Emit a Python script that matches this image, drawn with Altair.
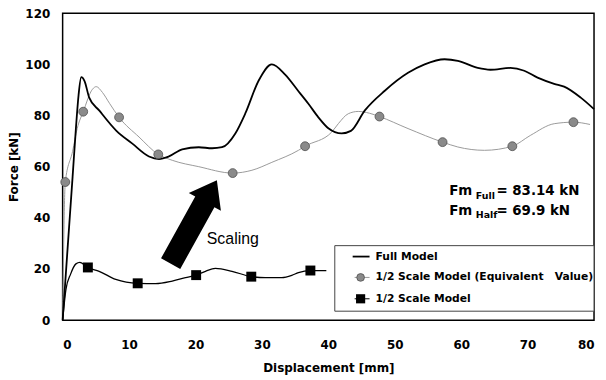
import altair as alt
import pandas as pd

# ---------------- data ----------------
full_x = [0, 0.8, 1.5, 2.0, 2.4, 2.8, 3.3, 4.0, 5.5, 8.1, 10.5, 13, 14.5, 16, 18, 20.5,
          22.5, 24, 26, 27.5, 29.5, 31.5, 33.5, 35.5, 37, 38.5, 40, 41, 42, 43.4, 45.5, 48.5,
          52, 54.5, 57.5, 59.5, 62.5, 64.4, 67.4, 69.5, 71.5, 74, 75.5, 78, 80]
full_y = [0, 30, 56, 75, 88, 95, 93.5, 87, 82, 74, 69, 64, 63, 64, 66.8, 67.6,
          67.2, 67.6, 73, 80.8, 93.6, 100, 96, 89.5, 84.6, 79.3, 75, 73.5, 73, 74, 82, 89.7,
          96.7, 100, 102, 101.4, 98.6, 97.9, 98.6, 97.5, 94.8, 92.4, 91.3, 87, 82.5]

eq_line_x = [0, 0.4, 1.5, 2.2, 3.1, 4.5, 5.05, 6, 7.1, 8.5, 11.5, 14.4, 16.5, 20.5, 25.6,
             28.5, 31.5, 35.5, 36.5, 40.5, 41.5, 43, 44.5, 46.2, 47.7, 52, 57.2, 59.5,
             63.5, 67.7, 70.4, 74, 76.9, 79.4]
eq_line_y = [0, 54, 66, 75, 81.5, 90.3, 91.3, 89, 84.6, 79.3, 71.6, 64.8, 62.5, 60, 57.5,
             58.6, 61.7, 66.4, 68, 73.5, 76.8, 80.7, 81.6, 80.9, 79.6, 74.9, 69.6, 67.7,
             66.4, 68, 72.2, 76.8, 77.4, 76.5]
eq_mark_x = [0.4, 3.1, 8.5, 14.4, 25.6, 36.5, 47.7, 57.2, 67.7, 76.9]
eq_mark_y = [54, 81.5, 79.3, 64.8, 57.5, 68, 79.6, 69.6, 68, 77.4]

half_line_x = [0, 0.5, 1.2, 2.0, 2.6, 3.8, 5.5, 8, 11.3, 14, 16.5, 18.5, 20.1, 21.5, 23,
               25.5, 28.4, 30.5, 33, 34.5, 35.5, 37.3, 39.7]
half_line_y = [0, 12, 18, 22, 22.6, 20.6, 19.1, 15.9, 14.4, 14.3, 15.3, 16.6, 17.6, 19.1,
               20.2, 19.1, 17, 16.6, 16.6, 17.5, 18.6, 19.4, 19.4]
half_mark_x = [3.8, 11.3, 20.1, 28.4, 37.3]
half_mark_y = [20.6, 14.4, 17.6, 17, 19.4]

x_ticks = [0, 10, 20, 30, 40, 50, 60, 70, 80]
y_ticks = [0, 20, 40, 60, 80, 100, 120]

legend_labels = ["Full Model",
                 "1/2 Scale Model (Equivalent\u00a0\u00a0\u00a0Value)",
                 "1/2 Scale Model"]

FONT = "DejaVu Sans"
W, H = 535, 309

xs = alt.Scale(domain=[0, 80], nice=False, zero=False)
ys = alt.Scale(domain=[0, 120], nice=False, zero=False)
xax = alt.Axis(values=x_ticks, title="Displacement [mm]")
yax = alt.Axis(values=y_ticks, title="Force [kN]")


def X(field="x"):
    return alt.X(f"{field}:Q", scale=xs, axis=xax)


def Y(field="y"):
    return alt.Y(f"{field}:Q", scale=ys, axis=yax)


full_df = pd.DataFrame({"x": full_x, "y": full_y, "o": range(len(full_x))})
eql_df = pd.DataFrame({"x": eq_line_x, "y": eq_line_y, "o": range(len(eq_line_x))})
eqm_df = pd.DataFrame({"x": eq_mark_x, "y": eq_mark_y})
hl_df = pd.DataFrame({"x": half_line_x, "y": half_line_y, "o": range(len(half_line_x))})
hm_df = pd.DataFrame({"x": half_mark_x, "y": half_mark_y})

full_line = alt.Chart(full_df).mark_line(color="black", strokeWidth=1.8,
                                         interpolate="monotone").encode(
    x=X(), y=Y(), order="o:Q")
eq_line = alt.Chart(eql_df).mark_line(color="#9a9a9a", strokeWidth=1,
                                      interpolate="monotone").encode(
    x=X(), y=Y(), order="o:Q")
eq_pts = alt.Chart(eqm_df).mark_point(shape="circle", filled=True, size=80,
                                      color="#8a8a8a", stroke="#505050",
                                      strokeWidth=0.8, opacity=1).encode(x=X(), y=Y())
half_line = alt.Chart(hl_df).mark_line(color="black", strokeWidth=1.3,
                                       interpolate="monotone").encode(
    x=X(), y=Y(), order="o:Q")
half_pts = alt.Chart(hm_df).mark_point(shape="square", filled=True, size=100,
                                       color="black", opacity=1).encode(x=X(), y=Y())

# ---------------- annotations ----------------
arrow_path = ("M0,-1 L0.385,-0.48 L0.23,-0.48 L0.23,1 L-0.23,1 "
              "L-0.23,-0.48 L-0.385,-0.48 Z")
arrow_df = pd.DataFrame({"x": [19.74], "y": [38.4]})
arrow = alt.Chart(arrow_df).mark_point(shape=arrow_path, filled=True, size=9216,
                                       angle=29, color="black", opacity=1).encode(
    x=X(), y=Y())

scal_df = pd.DataFrame({"x": [21.7], "y": [31.8], "t": ["Scaling"]})
scaling = alt.Chart(scal_df).mark_text(font="Liberation Sans", fontSize=16,
                                       align="left", baseline="middle",
                                       color="black").encode(x=X(), y=Y(), text="t:N")

fm_big = pd.DataFrame({"x": [58.2, 65.3, 58.2, 65.3], "y": [48.8, 48.8, 41.3, 41.3],
                       "t": ["Fm", "= 83.14 kN", "Fm", "= 69.9 kN"]})
fm_sub = pd.DataFrame({"x": [62.2, 62.2], "y": [47.5, 40.0], "t": ["Full", "Half"]})
fm_text = alt.Chart(fm_big).mark_text(font=FONT, fontSize=13.5, fontWeight="bold",
                                      align="left", baseline="alphabetic",
                                      color="black").encode(x=X(), y=Y(), text="t:N")
fm_subt = alt.Chart(fm_sub).mark_text(font=FONT, fontSize=9.5, fontWeight="bold",
                                      align="left", baseline="alphabetic",
                                      color="black").encode(x=X(), y=Y(), text="t:N")

# ---------------- manual legend (pixel layout inside plot) ----------------
one = pd.DataFrame({"k": [0]})
box = alt.Chart(one).mark_rect(fill="white", stroke="#444", strokeWidth=1).encode(
    x=alt.value(274), x2=alt.value(W), y=alt.value(234), y2=alt.value(300))

row_y = [245, 266, 287.5]
leg_layers = [box]
for i, lab in enumerate(legend_labels):
    ry = row_y[i]
    if i == 0:
        leg_layers.append(alt.Chart(one).mark_rule(color="black", strokeWidth=1.8).encode(
            x=alt.value(292), x2=alt.value(309), y=alt.value(ry)))
    else:
        leg_layers.append(alt.Chart(one).mark_rule(
            color="#9a9a9a" if i == 1 else "black", strokeWidth=1).encode(
            x=alt.value(294), x2=alt.value(309), y=alt.value(ry)))
        if i == 1:
            leg_layers.append(alt.Chart(one).mark_point(
                shape="circle", filled=True, size=60, color="#8a8a8a", stroke="#505050",
                strokeWidth=0.8, opacity=1).encode(x=alt.value(300), y=alt.value(ry)))
        else:
            leg_layers.append(alt.Chart(one).mark_point(
                shape="square", filled=True, size=85, color="black",
                opacity=1).encode(x=alt.value(300), y=alt.value(ry)))
    leg_layers.append(alt.Chart(one).mark_text(
        font=FONT, fontSize=10.8, fontWeight="bold", align="left", baseline="middle",
        color="black").encode(x=alt.value(315), y=alt.value(ry), text=alt.value(lab)))

chart = alt.layer(
    eq_line, full_line, half_line, eq_pts, half_pts, arrow, scaling, fm_text, fm_subt,
    *leg_layers
).properties(
    width=W, height=H,
    autosize=alt.AutoSizeParams(type="none"),
    padding={"left": 55, "top": 4, "right": 4, "bottom": 58},
    background="white",
).configure_view(
    stroke="black", strokeWidth=1.5
).configure_axis(
    grid=False, domain=False, ticks=False, tickSize=0,
    labelFont=FONT, labelFontSize=12, labelFontWeight="bold", labelColor="black",
    titleFont=FONT, titleFontSize=12, titleFontWeight="bold", titleColor="black",
).configure_axisX(
    labelPadding=20, titlePadding=12
).configure_axisY(
    labelPadding=13, titlePadding=4
)

chart.save("out.html", embed_options={"renderer": "svg", "actions": False})
